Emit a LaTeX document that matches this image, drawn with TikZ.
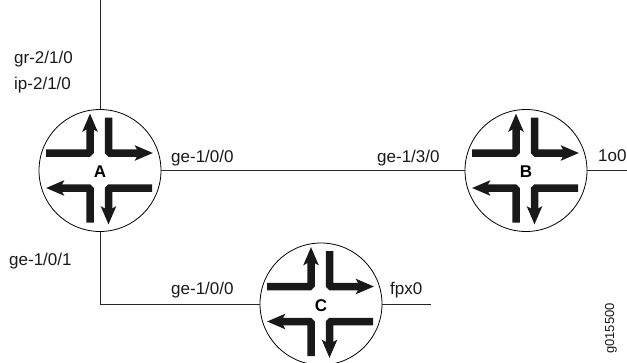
\documentclass[tikz,border=0pt]{standalone}
\usepackage{fontspec}
\setmainfont{Liberation Sans}
\usetikzlibrary{arrows.meta}
\tikzset{
 wire/.style={line width=0.8pt,draw=black!85},
 router/.style={circle,draw=black,line width=0.8pt,minimum size=122pt,inner sep=0pt},
 rname/.style={font=\fontsize{17}{20}\selectfont\bfseries,inner sep=0pt},
 lbl/.style={font=\fontsize{17}{20}\selectfont,anchor=base west,inner sep=0pt,text=black!90},
 flow/.style={line width=7.5pt,rounded corners=1.5pt,black!90},
 flowa/.style={flow,-{Stealth[length=18pt,width=15pt,inset=4pt]}}
}
\newcommand{\routerflows}[1]{%
 \begin{scope}[shift={(#1)}]
  \draw[flowa] (-54,-17.5) -- (-10,-17.5) -- (-10,-57);
  \draw[flowa] (8.5,-53) -- (8.5,-17.5) -- (53,-17.5);
  \draw[flowa] (-10,52) -- (-10,17.5) -- (-54,17.5);
  \draw[flowa] (52,17.5) -- (8.5,17.5) -- (8.5,54);
 \end{scope}}
\begin{document}
\begin{tikzpicture}[x=1pt,y=-1pt]
\useasboundingbox (0,0) rectangle (627,362);
\node[router] (A) at (100,170.5) {};
\node[router] (B) at (526,170.5) {};
\node[router] (C) at (321,304) {};
\routerflows{100,170.5}
\routerflows{526,170.5}
\routerflows{321,304}
\node[rname] (Al) at (100,171.5) {A};
\node[rname] (Bl) at (526,171.5) {B};
\node[rname] (Cl) at (321,305.5) {C};
\coordinate (top) at (100,0);
\coordinate (bend) at (100,304);
\coordinate (bout) at (627,170.5);
\coordinate (cout) at (431,304);
\draw[wire] (top) -- (A.north);
\draw[wire] (A.east) -- (B.west);
\draw[wire] (B.east) -- (bout);
\draw[wire] (A.south) -- (bend) -- (C.west);
\draw[wire] (C.east) -- (cout);
\node[lbl] (l1) at (14,63) {gr-2/1/0};
\node[lbl] (l2) at (14,89) {ip-2/1/0};
\node[lbl] (l3) at (171,162) {ge-1/0/0};
\node[lbl] (l4) at (377,162) {ge-1/3/0};
\node[lbl] (l5) at (598,161) {1o0};
\node[lbl] (l6) at (9,265) {ge-1/0/1};
\node[lbl] (l7) at (171,294) {ge-1/0/0};
\node[lbl] (l8) at (390,294) {fpx0};
\node[lbl,rotate=90,font=\fontsize{13}{16}\selectfont] (l9) at (614,354) {g015500};
\end{tikzpicture}
\end{document}
